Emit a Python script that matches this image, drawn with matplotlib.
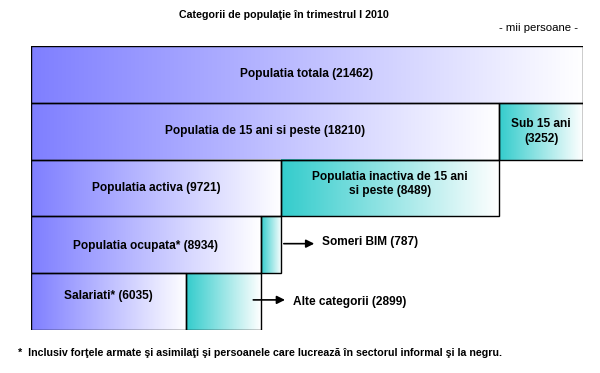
import numpy as np
import matplotlib
matplotlib.use('Agg')
import matplotlib.pyplot as plt
from matplotlib.colors import LinearSegmentedColormap

# values (thousands of persons)
total = 21462
peste15 = 18210
sub15 = 3252
activa = 9721
inactiva = 8489
ocupata = 8934
someri = 787
salariati = 6035
alte = 2899

plt.rcParams['font.family'] = ['Liberation Sans', 'DejaVu Sans']

blue = LinearSegmentedColormap.from_list('b', ['#7f7fff', '#ffffff'])
teal = LinearSegmentedColormap.from_list('t', ['#33cccc', '#ffffff'])
grad = np.linspace(0, 1, 256).reshape(1, -1)


def box(ax, x0, width, row, cmap):
    ax.imshow(grad, cmap=cmap, aspect='auto', extent=(x0, x0 + width, row + 1, row),
              interpolation='bilinear', zorder=1)
    ax.add_patch(plt.Rectangle((x0, row), width, 1, fill=False, ec='black', lw=1, zorder=2))


def main():
    fig = plt.figure(figsize=(6, 3.73), dpi=100)
    fig.patch.set_facecolor('white')
    ax = fig.add_axes([31 / 600, 43 / 373, 552 / 600, 284 / 373])
    ax.set_xlim(0, total)
    ax.set_ylim(5, 0)
    ax.axis('off')

    fs = 8.6
    # row 0
    box(ax, 0, total, 0, blue)
    ax.text(total / 2, 0.5, f'Populatia totala ({total})', ha='center', va='center', fontsize=fs, weight='bold')
    # row 1
    box(ax, 0, peste15, 1, blue)
    box(ax, peste15, sub15, 1, teal)
    ax.text(peste15 / 2, 1.5, f'Populatia de 15 ani si peste ({peste15})', ha='center', va='center', fontsize=fs, weight='bold')
    ax.text(peste15 + sub15 / 2, 1.5, f'Sub 15 ani\n({sub15})', ha='center', va='center', fontsize=fs, weight='bold', linespacing=1.3)
    # row 2
    box(ax, 0, activa, 2, blue)
    box(ax, activa, inactiva, 2, teal)
    ax.text(activa / 2, 2.5, f'Populatia activa ({activa})', ha='center', va='center', fontsize=fs, weight='bold')
    ax.text(activa + inactiva / 2, 2.43, f'Populatia inactiva de 15 ani\nsi peste ({inactiva})', ha='center', va='center', fontsize=fs, weight='bold', linespacing=1.3)
    # row 3
    box(ax, 0, ocupata, 3, blue)
    box(ax, ocupata, someri, 3, teal)
    ax.text(ocupata / 2, 3.52, f'Populatia ocupata* ({ocupata})', ha='center', va='center', fontsize=fs, weight='bold')
    ax.annotate('', xy=(activa + 1400, 3.48), xytext=(activa, 3.48),
                arrowprops=dict(arrowstyle='-|>', color='black', lw=1.2, mutation_scale=12), annotation_clip=False)
    ax.text(activa + 1600, 3.45, f'Someri BIM ({someri})', ha='left', va='center', fontsize=fs, weight='bold')
    # row 4
    box(ax, 0, salariati, 4, blue)
    box(ax, salariati, alte, 4, teal)
    ax.text(salariati / 2, 4.4, f'Salariati* ({salariati})', ha='center', va='center', fontsize=fs, weight='bold')
    ax.annotate('', xy=(salariati + alte + 1050, 4.47), xytext=(salariati + alte - 400, 4.47),
                arrowprops=dict(arrowstyle='-|>', color='black', lw=1.2, mutation_scale=12), annotation_clip=False)
    ax.text(salariati + alte + 1250, 4.5, f'Alte categorii ({alte})', ha='left', va='center', fontsize=fs, weight='bold')

    fig.text(284 / 600, 1 - 15 / 373, 'Categorii de populaţie în trimestrul I 2010', ha='center', va='center',
             fontsize=7.7, weight='bold')
    fig.text(578 / 600, 1 - 28 / 373, '- mii persoane -', ha='right', va='center', fontsize=8.2)
    fig.text(18 / 600, 1 - 353 / 373,
             '*  Inclusiv forţele armate şi asimilaţi şi persoanele care lucrează în sectorul informal şi la negru.',
             ha='left', va='center', fontsize=7.7, weight='bold')

    fig.savefig('out.png', dpi=100)


if __name__ == '__main__':
    main()
